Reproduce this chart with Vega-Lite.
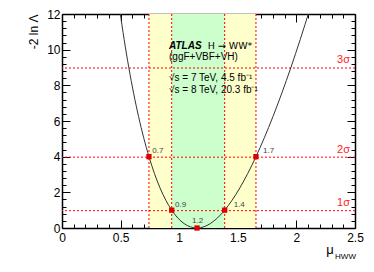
{
  "$schema": "https://vega.github.io/schema/vega-lite/v6.json",
  "width": 293,
  "height": 214,
  "autosize": "none",
  "padding": {"left": 62, "top": 14, "right": 19, "bottom": 44},
  "background": "white",
  "config": {"font": "Liberation Sans", "view": {"stroke": null}},
  "datasets": {
    "curve": [
      {"mu": 0.4923, "q": 12.25}, {"mu": 0.5304, "q": 10.5625}, {"mu": 0.570, "q": 9}, {"mu": 0.6109, "q": 7.5625},
      {"mu": 0.6533, "q": 6.25}, {"mu": 0.6969, "q": 5.0625}, {"mu": 0.742, "q": 4}, {"mu": 0.7884, "q": 3.0625},
      {"mu": 0.8363, "q": 2.25}, {"mu": 0.8854, "q": 1.5625}, {"mu": 0.936, "q": 1}, {"mu": 0.9879, "q": 0.5625},
      {"mu": 1.0413, "q": 0.25}, {"mu": 1.0959, "q": 0.0625}, {"mu": 1.152, "q": 0}, {"mu": 1.2081, "q": 0.0625},
      {"mu": 1.2661, "q": 0.25}, {"mu": 1.3261, "q": 0.5625}, {"mu": 1.388, "q": 1}, {"mu": 1.4518, "q": 1.5625},
      {"mu": 1.5176, "q": 2.25}, {"mu": 1.5853, "q": 3.0625}, {"mu": 1.655, "q": 4}, {"mu": 1.7266, "q": 5.0625},
      {"mu": 1.8001, "q": 6.25}, {"mu": 1.8756, "q": 7.5625}, {"mu": 1.953, "q": 9}, {"mu": 2.0323, "q": 10.5625},
      {"mu": 2.1136, "q": 12.25}
    ],
    "bands": [
      {"lo": 0.742, "hi": 0.936, "band": "2s"},
      {"lo": 1.388, "hi": 1.655, "band": "2s"},
      {"lo": 0.936, "hi": 1.388, "band": "1s"}
    ],
    "vlines": [{"mu": 0.742}, {"mu": 0.936}, {"mu": 1.388}, {"mu": 1.655}],
    "hlines": [{"q": 1}, {"q": 4}, {"q": 9}],
    "pts": [
      {"mu": 0.742, "q": 4, "lab": "0.7", "lx": 0.77, "ly": 4.33},
      {"mu": 0.936, "q": 1, "lab": "0.9", "lx": 0.965, "ly": 1.3},
      {"mu": 1.152, "q": 0, "lab": "1.2", "lx": 1.11, "ly": 0.4},
      {"mu": 1.388, "q": 1, "lab": "1.4", "lx": 1.465, "ly": 1.3},
      {"mu": 1.655, "q": 4, "lab": "1.7", "lx": 1.715, "ly": 4.33}
    ],
    "sig": [
      {"x": 2.457, "y": 1.12, "t": "1σ"},
      {"x": 2.457, "y": 4.12, "t": "2σ"},
      {"x": 2.457, "y": 9.12, "t": "3σ"}
    ],
    "hww": [{"x": 1.243, "y": 10.19, "t": "H → WW*"}],
    "txt": [
      {"x": 0.913, "y": 9.61, "t": "(ggF+VBF+VH)"},
      {"x": 0.913, "y": 8.43, "t": "√s = 7 TeV, 4.5 fb⁻¹"},
      {"x": 0.913, "y": 7.75, "t": "√s = 8 TeV, 20.3 fb⁻¹"}
    ],
    "atlas": [{"x": 0.913, "y": 10.19, "t": "ATLAS"}],
    "xt": [
      {"x": 2.255, "y": -1.25, "t": "μ", "s": 13},
      {"x": 2.33, "y": -1.6, "t": "HWW", "s": 8}
    ]
  },
  "resolve": {"axis": {"x": "independent", "y": "independent"}},
  "layer": [
    {
      "data": {"name": "bands"},
      "mark": {"type": "rect"},
      "encoding": {
        "x": {"field": "lo", "type": "quantitative", "scale": {"domain": [0, 2.5], "nice": false}, "axis": null},
        "x2": {"field": "hi"},
        "color": {"field": "band", "type": "nominal", "scale": {"domain": ["1s", "2s"], "range": ["#ccffcc", "#ffffcc"]}, "legend": null}
      }
    },
    {
      "data": {"name": "vlines"},
      "mark": {"type": "rule", "color": "#ff0000", "strokeDash": [2, 2], "strokeWidth": 1},
      "encoding": {"x": {"field": "mu", "type": "quantitative", "axis": null}}
    },
    {
      "data": {"name": "hlines"},
      "mark": {"type": "rule", "color": "#ff0000", "strokeDash": [2, 2], "strokeWidth": 1, "yOffset": 0.5},
      "encoding": {"y": {"field": "q", "type": "quantitative", "scale": {"domain": [0, 12], "nice": false}, "axis": null}}
    },
    {
      "data": {"name": "curve"},
      "mark": {"type": "line", "color": "#333333", "strokeWidth": 1, "clip": true, "interpolate": "monotone"},
      "encoding": {
        "x": {"field": "mu", "type": "quantitative",
          "axis": {"orient": "bottom", "title": null, "values": [0,0.1,0.2,0.3,0.4,0.5,0.6,0.7,0.8,0.9,1,1.1,1.2,1.3,1.4,1.5,1.6,1.7,1.8,1.9,2,2.1,2.2,2.3,2.4,2.5],
            "labelExpr": "abs(datum.value*2-round(datum.value*2))<0.001 ? format(datum.value,'~g') : ''",
            "tickSize": {"condition": {"test": "abs(datum.value*2-round(datum.value*2))<0.001", "value": -8}, "value": -4},
            "labelPadding": 12, "labelFontSize": 12, "labelColor": "#000", "tickColor": "#000", "domainColor": "#000", "domainWidth": 1.5, "grid": false, "labelFlush": false, "labelOverlap": false}},
        "y": {"field": "q", "type": "quantitative",
          "axis": {"orient": "left", "title": "-2 ln Λ", "titleAnchor": "end", "titleFontSize": 12, "titleFontWeight": "normal", "titleColor": "#000", "titlePadding": 6,
            "values": [0,0.4,0.8,1.2,1.6,2,2.4,2.8,3.2,3.6,4,4.4,4.8,5.2,5.6,6,6.4,6.8,7.2,7.6,8,8.4,8.8,9.2,9.6,10,10.4,10.8,11.2,11.6,12],
            "labelExpr": "abs(datum.value/2-round(datum.value/2))<0.001 ? format(datum.value,'d') : ''",
            "tickSize": {"condition": {"test": "abs(datum.value/2-round(datum.value/2))<0.001", "value": -8}, "value": -4},
            "labelPadding": 10, "labelFontSize": 12, "labelColor": "#000", "tickColor": "#000", "domainColor": "#000", "domainWidth": 1.5, "grid": false, "labelOverlap": false, "labelFlush": false}}
      }
    },
    {
      "data": {"name": "pts"},
      "mark": {"type": "square", "color": "#dd0000", "opacity": 1, "size": 28},
      "encoding": {
        "x": {"field": "mu", "type": "quantitative",
          "axis": {"orient": "top", "title": null, "labels": false, "values": [0,0.1,0.2,0.3,0.4,0.5,0.6,0.7,0.8,0.9,1,1.1,1.2,1.3,1.4,1.5,1.6,1.7,1.8,1.9,2,2.1,2.2,2.3,2.4,2.5],
            "tickSize": {"condition": {"test": "abs(datum.value*2-round(datum.value*2))<0.001", "value": -8}, "value": -4},
            "tickColor": "#000", "domainColor": "#000", "domainWidth": 1.5, "grid": false}},
        "y": {"field": "q", "type": "quantitative",
          "axis": {"orient": "right", "title": null, "labels": false,
            "values": [0,0.4,0.8,1.2,1.6,2,2.4,2.8,3.2,3.6,4,4.4,4.8,5.2,5.6,6,6.4,6.8,7.2,7.6,8,8.4,8.8,9.2,9.6,10,10.4,10.8,11.2,11.6,12],
            "tickSize": {"condition": {"test": "abs(datum.value/2-round(datum.value/2))<0.001", "value": -8}, "value": -4},
            "tickColor": "#000", "domainColor": "#000", "domainWidth": 1.5, "grid": false}}
      }
    },
    {
      "data": {"name": "pts"},
      "mark": {"type": "text", "fontSize": 8, "color": "#444", "align": "left", "baseline": "middle"},
      "encoding": {
        "x": {"field": "lx", "type": "quantitative", "axis": null},
        "y": {"field": "ly", "type": "quantitative", "axis": null},
        "text": {"field": "lab"}
      }
    },
    {
      "data": {"name": "sig"},
      "mark": {"type": "text", "fontSize": 11, "color": "#ff2222", "align": "right", "baseline": "bottom"},
      "encoding": {
        "x": {"field": "x", "type": "quantitative", "axis": null},
        "y": {"field": "y", "type": "quantitative", "axis": null},
        "text": {"field": "t"}
      }
    },
    {
      "data": {"name": "atlas"},
      "mark": {"type": "text", "fontSize": 10, "fontWeight": "bold", "fontStyle": "italic", "color": "#000", "align": "left", "baseline": "middle"},
      "encoding": {
        "x": {"field": "x", "type": "quantitative", "axis": null},
        "y": {"field": "y", "type": "quantitative", "axis": null},
        "text": {"field": "t"}
      }
    },
    {
      "data": {"name": "hww"},
      "mark": {"type": "text", "fontSize": 9.5, "font": "DejaVu Sans", "color": "#000", "align": "left", "baseline": "middle"},
      "encoding": {
        "x": {"field": "x", "type": "quantitative", "axis": null},
        "y": {"field": "y", "type": "quantitative", "axis": null},
        "text": {"field": "t"}
      }
    },
    {
      "data": {"name": "txt"},
      "mark": {"type": "text", "fontSize": 10, "color": "#000", "align": "left", "baseline": "middle"},
      "encoding": {
        "x": {"field": "x", "type": "quantitative", "axis": null},
        "y": {"field": "y", "type": "quantitative", "axis": null},
        "text": {"field": "t"}
      }
    },
    {
      "data": {"name": "xt"},
      "mark": {"type": "text", "color": "#000", "align": "left", "baseline": "middle"},
      "encoding": {
        "x": {"field": "x", "type": "quantitative", "axis": null},
        "y": {"field": "y", "type": "quantitative", "axis": null},
        "text": {"field": "t"},
        "size": {"field": "s", "type": "quantitative", "scale": null, "legend": null}
      }
    }
  ]
}
